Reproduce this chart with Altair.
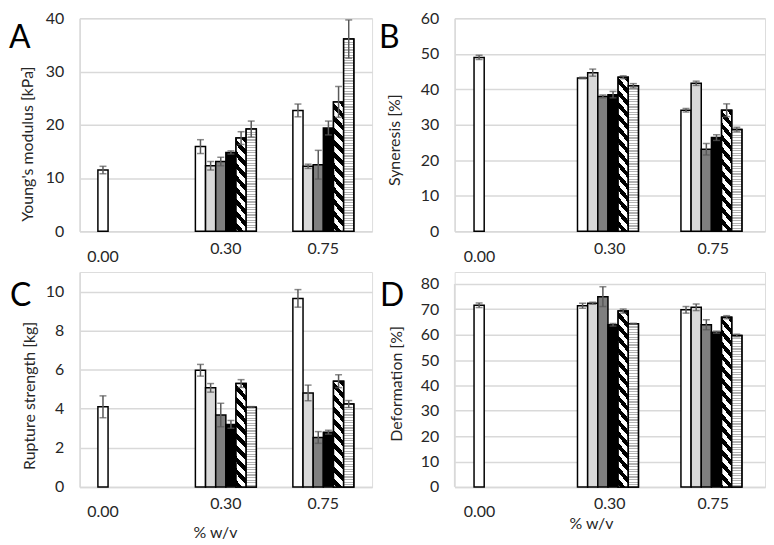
import altair as alt

# ---------------- data ----------------
categories = ["0.00", "0.30", "0.75"]
series = ["Series 1", "Series 2", "Series 3", "Series 4", "Series 5", "Series 6"]

# A: Young's modulus [kPa]
young_000 = [11.5]
young_030 = [15.9, 12.3, 13.1, 14.8, 17.5, 19.2]
young_075 = [22.7, 12.2, 12.5, 19.4, 24.3, 36.1]
young_err_000 = [0.7]
young_err_030 = [1.3, 0.8, 0.8, 0.3, 1.2, 1.5]
young_err_075 = [1.2, 0.4, 2.7, 1.3, 2.9, 3.6]

# B: Syneresis [%]
syn_000 = [49.0]
syn_030 = [43.2, 44.7, 38.0, 38.5, 43.4, 41.0]
syn_075 = [34.1, 41.7, 23.1, 26.4, 34.1, 28.7]
syn_err_000 = [0.6]
syn_err_030 = [0.2, 1.0, 0.4, 0.9, 0.4, 0.6]
syn_err_075 = [0.5, 0.6, 1.6, 0.8, 1.8, 0.6]

# C: Rupture strength [kg]
rup_000 = [4.1]
rup_030 = [5.97, 5.07, 3.68, 3.2, 5.29, 4.08]
rup_075 = [9.65, 4.81, 2.53, 2.8, 5.41, 4.24]
rup_err_000 = [0.56]
rup_err_030 = [0.3, 0.22, 0.6, 0.2, 0.2, 0.03]
rup_err_075 = [0.45, 0.4, 0.3, 0.1, 0.33, 0.18]

# D: Deformation [%]
def_000 = [71.6]
def_030 = [71.4, 72.4, 75.0, 63.9, 69.3, 64.3]
def_075 = [69.8, 70.8, 63.9, 61.0, 66.9, 59.7]
def_err_000 = [0.9]
def_err_030 = [1.0, 0.4, 3.9, 0.5, 0.8, 0.2]
def_err_075 = [1.3, 1.3, 2.0, 0.4, 0.6, 0.5]

# ---------------- style ----------------
FONT = "Lato"
TEXT = "#262626"
GRID = "#d9d9d9"
ERR = "#595959"
series_colors = ["#ffffff", "#d9d9d9", "#7f7f7f", "#000000", "#ffffff", "#ffffff"]
PAD_IN, PAD_OUT = 0.375, 0.1875


def band_fill(h, w, slope, period, duty, c1, c2):
    """Linear gradient with hard stops that paints parallel bands in a bar of w x h px."""
    h = max(h, 1.0)
    F = h + slope * w
    k = F / (slope * slope * w * w + h * h)
    x2 = 1 - k * slope * w
    y2 = k * h
    stops = []
    i = 0
    while i * period / F <= 1:
        a = i * period / F
        b = (i + duty) * period / F
        c = (i + 1) * period / F
        stops += [
            {"offset": min(a, 1), "color": c1},
            {"offset": min(b, 1), "color": c1},
            {"offset": min(b, 1), "color": c2},
            {"offset": min(c, 1), "color": c2},
        ]
        i += 1
    return {"gradient": "linear", "x1": 1, "y1": 0, "x2": x2, "y2": y2, "stops": stops}


def panel(letter, vals, errs, ytitle, dmax, yticks, W, H, ytx, yty, lx, ly,
          xlab_off, xtitle=None, xtx=None, xty=None, axis_top=None):
    w_bar = W / 3 * (1 - PAD_IN) / len(series)
    recs = []
    for ci, cat in enumerate(categories):
        for si, v in enumerate(vals[ci]):
            rec = {"conc": cat, "series": series[si], "value": v, "err": errs[ci][si]}
            h = v / dmax * H
            if si == 4:
                rec["pattern"] = band_fill(h, w_bar, 1.1, 12.0, 0.5, "#000000", "#ffffff")
            elif si == 5:
                rec["pattern"] = band_fill(h, w_bar, 0.0, 2.6, 0.45, "#b3b3b3", "#ffffff")
            recs.append(rec)

    base = alt.Chart(alt.Data(values=recs))
    xaxis = alt.Axis(
        title=xtitle if xtitle else None,
        labelAngle=0, ticks=False, tickSize=0, grid=False,
        domain=True, domainColor=GRID, domainWidth=1.5,
        labelFontSize=16, labelColor=TEXT, labelFont=FONT,
        labelPadding={"condition": {"test": "datum.value == '0.00'", "value": 17}, "value": 9},
        labelOffset={"condition": {"test": "datum.value == '0.00'", "value": xlab_off}, "value": 0},
        **({"titleX": xtx, "titleY": xty, "titleBaseline": "middle", "titleAlign": "center",
            "titleFontSize": 16, "titleFontWeight": "normal", "titleColor": TEXT, "titleFont": FONT}
           if xtitle else {}),
    )
    yaxis = alt.Axis(
        title=ytitle, values=yticks, ticks=False, tickSize=0,
        grid=True, gridColor=GRID, gridWidth=1.5,
        domain=axis_top is None, domainColor=GRID, domainWidth=1.5,
        labelFontSize=16, labelColor=TEXT, labelFont=FONT, labelPadding=16,
        titleFontSize=16, titleFontWeight="normal", titleColor=TEXT, titleFont=FONT,
        titleX=ytx, titleY=yty, titleBaseline="middle", titleAlign="center", titleAngle=-90,
    )
    xs = alt.Scale(domain=categories, paddingInner=PAD_IN, paddingOuter=PAD_OUT)
    ys = alt.Scale(domain=[0, dmax], nice=False, zero=True)
    X = alt.X("conc:N", scale=xs, axis=xaxis, sort=categories)
    XO = alt.XOffset("series:N", scale=alt.Scale(domain=series), sort=series)

    bars = base.mark_bar(stroke="#000000", strokeWidth=1.5).encode(
        x=X, xOffset=XO,
        y=alt.Y("value:Q", scale=ys, axis=yaxis),
        color=alt.Color("series:N", scale=alt.Scale(domain=series, range=series_colors), legend=None),
    )
    patt = base.transform_filter("isValid(datum.pattern)").mark_bar(
        stroke="#000000", strokeWidth=1.5
    ).encode(
        x=X, xOffset=XO,
        y=alt.Y("value:Q", scale=ys, axis=yaxis),
        fill=alt.Fill("pattern:N", scale=None),
    )
    eb = base.transform_calculate(lo="datum.value - datum.err", hi="datum.value + datum.err")
    rule = eb.mark_rule(color=ERR, strokeWidth=1.5).encode(
        x=X, xOffset=XO, y=alt.Y("lo:Q", scale=ys, axis=yaxis), y2="hi:Q"
    )
    cap_lo = eb.mark_tick(color=ERR, thickness=1.5, size=7).encode(
        x=X, xOffset=XO, y=alt.Y("lo:Q", scale=ys, axis=yaxis)
    )
    cap_hi = eb.mark_tick(color=ERR, thickness=1.5, size=7).encode(
        x=X, xOffset=XO, y=alt.Y("hi:Q", scale=ys, axis=yaxis)
    )
    label = alt.Chart(alt.Data(values=[{"panel": letter}])).mark_text(
        align="left", baseline="alphabetic", fontSize=32, font=FONT, color="#000000"
    ).encode(x=alt.value(lx), y=alt.value(ly), text="panel:N")
    layers = [bars, patt, rule, cap_lo, cap_hi, label]
    if axis_top is not None:
        axline = alt.Chart(alt.Data(values=[{"a": 0}])).mark_rule(
            color=GRID, strokeWidth=1.5
        ).encode(
            x=alt.value(0),
            y=alt.Y(datum=0, scale=ys, axis=yaxis),
            y2=alt.datum(axis_top),
        )
        layers = [axline] + layers
    return alt.layer(*layers).properties(width=W, height=H)


W1, W2 = 294, 312
H1, H2 = 214, 216
D_MAX = 80 * H2 / 204

pA = panel("A", [young_000, young_030, young_075], [young_err_000, young_err_030, young_err_075],
           "Young's modulus [kPa]", 40, [0, 10, 20, 30, 40], W1, H1, -52, 126, -71, 30,
           -W1 / 3 * (1 - PAD_IN) * 5 / 12)
pB = panel("B", [syn_000, syn_030, syn_075], [syn_err_000, syn_err_030, syn_err_075],
           "Syneresis [%]", 60, [0, 10, 20, 30, 40, 50, 60], W2, H1, -60, 122, -76, 30,
           -W2 / 3 * (1 - PAD_IN) * 5 / 12)
pC = panel("C", [rup_000, rup_030, rup_075], [rup_err_000, rup_err_030, rup_err_075],
           "Rupture strength [kg]", 11, [0, 2, 4, 6, 8, 10], W1, H2, -50, 124, -70, 34,
           -W1 / 3 * (1 - PAD_IN) * 5 / 12, xtitle="% w/v", xtx=136, xty=46)
pD = panel("D", [def_000, def_030, def_075], [def_err_000, def_err_030, def_err_075],
           "Deformation [%]", D_MAX, [0, 10, 20, 30, 40, 50, 60, 70, 80], W2, H2, -58, 112, -75, 34,
           -W2 / 3 * (1 - PAD_IN) * 5 / 12, xtitle="% w/v", xtx=137, xty=37, axis_top=80)

chart = alt.concat(pA, pB, pC, pD, columns=2, spacing={"row": 6, "column": 5}).properties(
    padding=0
).configure_view(stroke=None).configure(font=FONT)

chart.save("out.html", embed_options={"renderer": "svg", "actions": False})
